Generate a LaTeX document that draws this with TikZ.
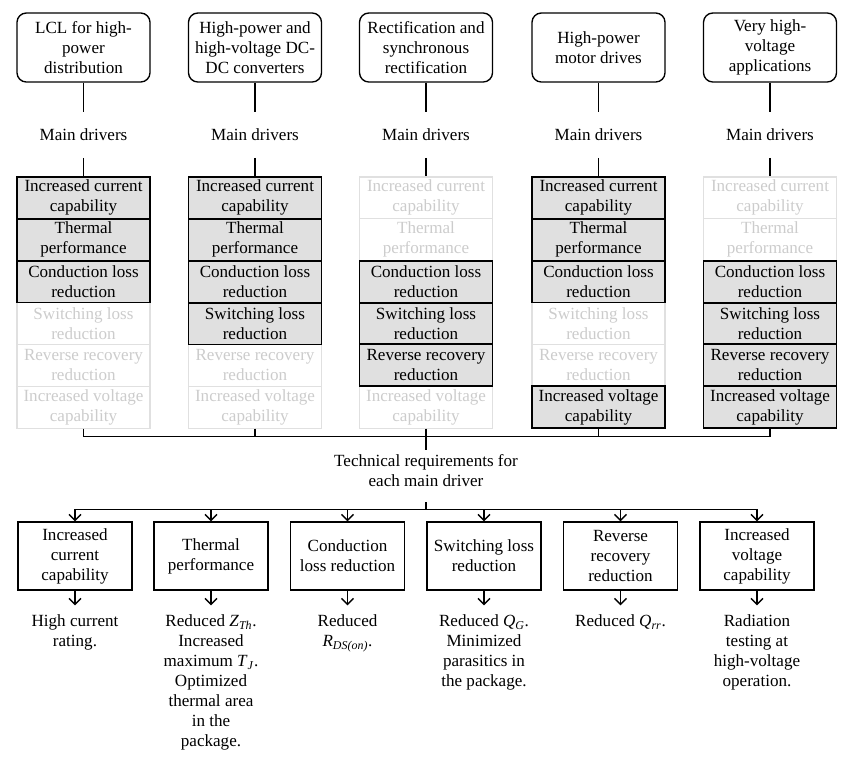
\documentclass[tikz,border=0pt]{standalone}
\usepackage{fontspec}
\setmainfont{Liberation Serif}
\usetikzlibrary{arrows.meta}
\definecolor{cellgray}{gray}{0.88}
\definecolor{dimline}{gray}{0.88}
\definecolor{dimtext}{gray}{0.80}

\begin{document}
\begin{tikzpicture}[x=0.75pt, y=-0.75pt,
  every node/.style={font=\fontsize{12.8}{15}\selectfont, align=center},
  app/.style={draw, line width=1pt, rounded corners=7pt, minimum width=99.75pt, minimum height=51.75pt},
  lbl/.style={minimum height=33.75pt, inner sep=0pt},
  cell/.style={draw, line width=1.4pt, fill=cellgray, minimum width=99.75pt, minimum height=31.4pt, inner sep=1pt},
  dimcell/.style={draw=dimline, text=dimtext, line width=0.8pt, minimum width=99.75pt, minimum height=31.4pt, inner sep=1pt},
  req/.style={draw, line width=1pt, minimum width=85.5pt, minimum height=51pt, inner sep=1pt},
  res/.style={anchor=north, inner sep=2pt},
  wire/.style={line width=1pt},
  flecha/.style={wire, -{Straight Barb[length=4.5pt, width=9pt]}}]
\useasboundingbox (0,0) rectangle (853,768);
% applications
\node[app] (a1) at (83.5,47.5) {LCL for high-\\power\\distribution};
\node[app] (a2) at (255,47.5) {High-power and\\high-voltage DC-\\DC converters};
\node[app] (a3) at (426,47.5) {Rectification and\\synchronous\\rectification};
\node[app] (a4) at (598.5,47.5) {High-power\\motor drives};
\node[app] (a5) at (770,47.5) {Very high-\\voltage\\applications};
\node[lbl] (md1) at (83.5,135) {Main drivers};
\node[lbl] (md2) at (255,135) {Main drivers};
\node[lbl] (md3) at (426,135) {Main drivers};
\node[lbl] (md4) at (598.5,135) {Main drivers};
\node[lbl] (md5) at (770,135) {Main drivers};
% column 1
\node[dimcell] (c14) at (83.5,323.5) {Switching loss\\reduction};
\node[dimcell] (c15) at (83.5,365.3) {Reverse recovery\\reduction};
\node[dimcell] (c16) at (83.5,407.2) {Increased voltage\\capability};
\node[cell] (c11) at (83.5,197.9) {Increased current\\capability};
\node[cell] (c12) at (83.5,239.8) {Thermal\\performance};
\node[cell] (c13) at (83.5,281.6) {Conduction loss\\reduction};
% column 2
\node[dimcell] (c25) at (255,365.3) {Reverse recovery\\reduction};
\node[dimcell] (c26) at (255,407.2) {Increased voltage\\capability};
\node[cell] (c21) at (255,197.9) {Increased current\\capability};
\node[cell] (c22) at (255,239.8) {Thermal\\performance};
\node[cell] (c23) at (255,281.6) {Conduction loss\\reduction};
\node[cell] (c24) at (255,323.5) {Switching loss\\reduction};
% column 3
\node[dimcell] (c31) at (426,197.9) {Increased current\\capability};
\node[dimcell] (c32) at (426,239.8) {Thermal\\performance};
\node[dimcell] (c36) at (426,407.2) {Increased voltage\\capability};
\node[cell] (c33) at (426,281.6) {Conduction loss\\reduction};
\node[cell] (c34) at (426,323.5) {Switching loss\\reduction};
\node[cell] (c35) at (426,365.3) {Reverse recovery\\reduction};
% column 4
\node[dimcell] (c44) at (598.5,323.5) {Switching loss\\reduction};
\node[dimcell] (c45) at (598.5,365.3) {Reverse recovery\\reduction};
\node[cell] (c41) at (598.5,197.9) {Increased current\\capability};
\node[cell] (c42) at (598.5,239.8) {Thermal\\performance};
\node[cell] (c43) at (598.5,281.6) {Conduction loss\\reduction};
\node[cell] (c46) at (598.5,407.2) {Increased voltage\\capability};
% column 5
\node[dimcell] (c51) at (770,197.9) {Increased current\\capability};
\node[dimcell] (c52) at (770,239.8) {Thermal\\performance};
\node[cell] (c53) at (770,281.6) {Conduction loss\\reduction};
\node[cell] (c54) at (770,323.5) {Switching loss\\reduction};
\node[cell] (c55) at (770,365.3) {Reverse recovery\\reduction};
\node[cell] (c56) at (770,407.2) {Increased voltage\\capability};
% requirements
\node[inner sep=0pt, minimum height=31.5pt] (tr) at (426,471) {Technical requirements for\\each main driver};
\node[req] (r1) at (75,556) {Increased\\current\\capability};
\node[req] (r2) at (211,556) {Thermal\\performance};
\node[req] (r3) at (347.5,556) {Conduction\\loss reduction};
\node[req] (r4) at (484,556) {Switching loss\\reduction};
\node[req] (r5) at (620.5,556) {Reverse\\recovery\\reduction};
\node[req] (r6) at (757,556) {Increased\\voltage\\capability};
\node[res] (o1) at (75,612) {High current\\rating.};
\node[res] (o2) at (211,612) {Reduced \textit{Z}\textsubscript{\textit{Th}}.\\Increased\\maximum \textit{T}\textsubscript{\textit{J}}.\\Optimized\\thermal area\\in the\\package.};
\node[res] (o3) at (347.5,612) {Reduced\\\textit{R}\textsubscript{\textit{DS(on)}}.};
\node[res] (o4) at (484,612) {Reduced \textit{Q}\textsubscript{\textit{G}}.\\Minimized\\parasitics in\\the package.};
\node[res] (o5) at (620.5,612) {Reduced \textit{Q}\textsubscript{\textit{rr}}.};
\node[res] (o6) at (757,612) {Radiation\\testing at\\high-voltage\\operation.};
% connectors
\draw[wire] (a1) -- (md1);
\draw[wire] (a2) -- (md2);
\draw[wire] (a3) -- (md3);
\draw[wire] (a4) -- (md4);
\draw[wire] (a5) -- (md5);
\draw[wire] (md1) -- (c11);
\draw[wire] (md2) -- (c21);
\draw[wire] (md3) -- (c31);
\draw[wire] (md4) -- (c41);
\draw[wire] (md5) -- (c51);
\draw[wire] (c16.south) -- ++(0,8) -| (c56.south);
\draw[wire] (c26.south) -- ++(0,8);
\draw[wire] (c46.south) -- ++(0,8);
\draw[wire] (c36.south) -- (tr.north);
\draw[wire, shorten <=7.5pt] (tr.south) -- ++(0,17) coordinate (split);
\draw[flecha] (split) -| (r1.north);
\draw[flecha] (split) -| (r2.north);
\draw[flecha] (split) -| (r3.north);
\draw[flecha] (split) -| (r4.north);
\draw[flecha] (split) -| (r5.north);
\draw[flecha] (split) -| (r6.north);
\draw[flecha, shorten >=5pt] (r1) -- (o1);
\draw[flecha, shorten >=5pt] (r2) -- (o2);
\draw[flecha, shorten >=5pt] (r3) -- (o3);
\draw[flecha, shorten >=5pt] (r4) -- (o4);
\draw[flecha, shorten >=5pt] (r5) -- (o5);
\draw[flecha, shorten >=5pt] (r6) -- (o6);
\end{tikzpicture}
\end{document}
